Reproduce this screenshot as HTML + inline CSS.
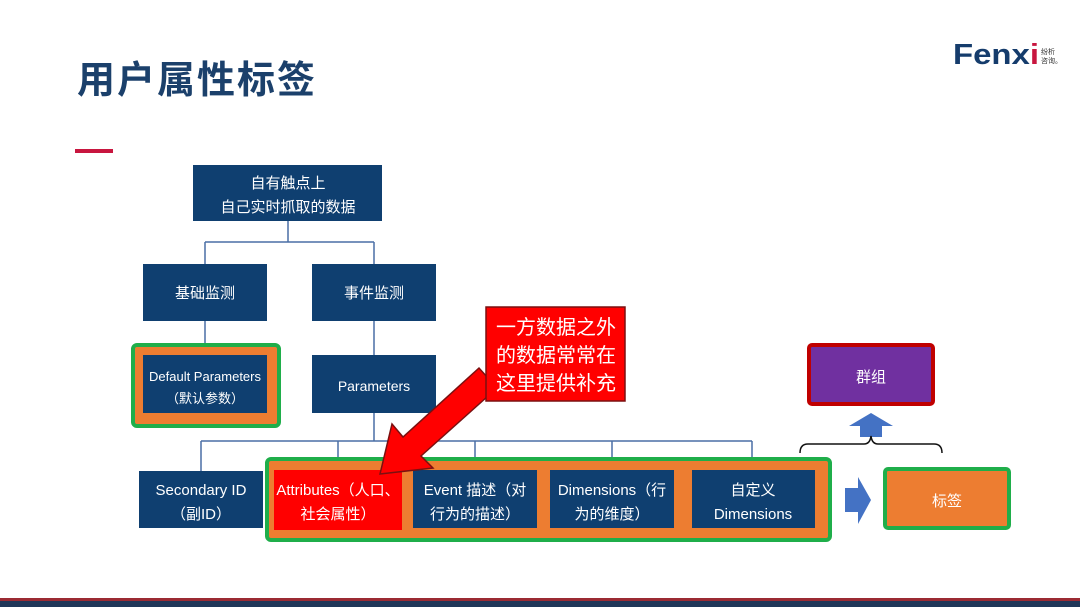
<!DOCTYPE html>
<html><head><meta charset="utf-8"><style>
html,body{margin:0;padding:0;background:#fff;}
svg{display:block;}
text{font-family:"Liberation Sans","Noto Sans CJK SC",sans-serif;}
</style></head><body>
<svg width="1080" height="607" viewBox="0 0 1080 607" xmlns="http://www.w3.org/2000/svg">
<rect width="1080" height="607" fill="#fff"/>
<text x="77" y="93" font-size="38" font-weight="bold" fill="#1b406b" textLength="238" lengthAdjust="spacing">用户属性标签</text>
<rect x="75" y="149" width="38" height="4" fill="#c8163f"/>
<text x="953" y="64" font-size="29" font-weight="bold" fill="#153c6c" textLength="86" lengthAdjust="spacingAndGlyphs">Fenx<tspan fill="#c8163f">i</tspan></text>
<text x="1041" y="54" font-size="7" fill="#333">纷析</text>
<text x="1041" y="63" font-size="7" fill="#333">咨询。</text>
<g stroke="#4a6fa5" stroke-width="1.5" fill="none">
<path d="M288 221V242M205 242H374M205 242V264M374 242V264M205 321V355M374 321V355M374 413V441M201 441H752M201 441V471M338 441V470M475 441V470M612 441V470M752 441V470"/>
</g>
<g fill="#0f3f70">
<rect x="193" y="165" width="189" height="56"/>
<rect x="143" y="264" width="124" height="57"/>
<rect x="312" y="264" width="124" height="57"/>
</g>
<rect x="133" y="345" width="146" height="81" rx="4" fill="#ed7d31" stroke="#1fae4a" stroke-width="4"/>
<rect x="143" y="355" width="124" height="58" fill="#0f3f70"/>
<rect x="312" y="355" width="124" height="58" fill="#0f3f70"/>
<rect x="139" y="471" width="124" height="57" fill="#0f3f70"/>
<rect x="267" y="459" width="563" height="81" rx="4" fill="#ed7d31" stroke="#1fae4a" stroke-width="4"/>
<rect x="274" y="470" width="128" height="60" fill="#ff0000"/>
<rect x="413" y="470" width="124" height="58" fill="#0f3f70"/>
<rect x="550" y="470" width="124" height="58" fill="#0f3f70"/>
<rect x="692" y="470" width="123" height="58" fill="#0f3f70"/>
<g fill="#fff" font-size="15" text-anchor="middle">
<text x="288" y="188">自有触点上</text>
<text x="288" y="212">自己实时抓取的数据</text>
<text x="205" y="298">基础监测</text>
<text x="374" y="298">事件监测</text>
<text x="205" y="381" font-size="13">Default Parameters</text>
<text x="205" y="403" font-size="13">（默认参数）</text>
<text x="374" y="391" font-size="14">Parameters</text>
<text x="201" y="495">Secondary ID</text>
<text x="201" y="519">（副ID）</text>
<text x="338" y="495">Attributes（人口、</text>
<text x="338" y="519">社会属性）</text>
<text x="475" y="495">Event 描述（对</text>
<text x="475" y="519">行为的描述）</text>
<text x="612" y="495">Dimensions（行</text>
<text x="612" y="519">为的维度）</text>
<text x="753" y="495">自定义</text>
<text x="753" y="519">Dimensions</text>
</g>
<polygon points="380,474 392,424 403,437 479,368 497,388 421,456 433,468" fill="#ff0000" stroke="#7a1010" stroke-width="1.5"/>
<rect x="486" y="307" width="139" height="94" fill="#ff0000" stroke="#7a1010" stroke-width="1.5"/>
<g fill="#fff" font-size="20" text-anchor="middle">
<text x="556" y="334">一方数据之外</text>
<text x="556" y="362">的数据常常在</text>
<text x="556" y="390">这里提供补充</text>
</g>
<rect x="809" y="345" width="124" height="59" rx="3" fill="#7030a0" stroke="#c00000" stroke-width="4"/>
<text x="871" y="382" font-size="15" fill="#fff" text-anchor="middle">群组</text>
<polygon points="849,426 871,413 893,426 882,426 882,437 860,437 860,426" fill="#4472c4"/>
<path d="M800 453 Q800 444 808 444 H864 Q870 444 871 436 Q872 444 878 444 H934 Q942 444 942 453" fill="none" stroke="#111" stroke-width="1.5"/>
<polygon points="845,488 858,488 858,477 871,500 858,524 858,512 845,512" fill="#4472c4"/>
<rect x="885" y="469" width="124" height="59" rx="3" fill="#ed7d31" stroke="#1fae4a" stroke-width="4"/>
<text x="947" y="506" font-size="15" fill="#fff" text-anchor="middle">标签</text>
<rect x="0" y="598" width="1080" height="3" fill="#9b2a33"/>
<rect x="0" y="601" width="1080" height="6" fill="#1f3658"/>
</svg>
</body></html>
